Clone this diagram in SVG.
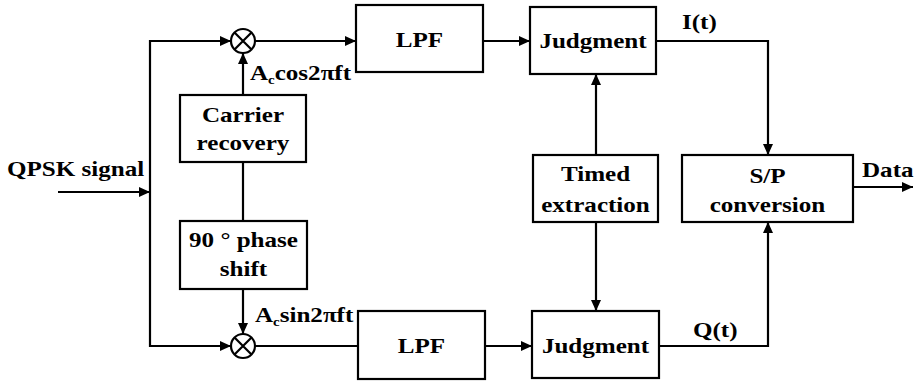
<svg xmlns="http://www.w3.org/2000/svg" width="918" height="383" viewBox="0 0 918 383">
  <style>
    .box { fill: #fff; stroke: #000; stroke-width: 2.2; }
    .ln { fill: none; stroke: #000; stroke-width: 2.2; }
    .t { font-family: "Liberation Serif", "Times New Roman", serif; font-weight: bold; font-size: 22px; fill: #000; }
    .c { text-anchor: middle; }
  </style>
  <defs>
    <marker id="arr" markerUnits="userSpaceOnUse" markerWidth="11" markerHeight="10" refX="11" refY="5" orient="auto">
      <path d="M0,0 L11,5 L0,10 z" fill="#000"/>
    </marker>
  </defs>
  <rect width="918" height="383" fill="#fff"/>

  <!-- connectors -->
  <g id="connectors">
    <line class="ln" x1="58" y1="192" x2="150" y2="192" marker-end="url(#arr)"/>
    <path class="ln" d="M150,192 V41 H231" marker-end="url(#arr)"/>
    <path class="ln" d="M150,192 V346 H231" marker-end="url(#arr)"/>
    <line class="ln" x1="243" y1="95" x2="243" y2="53" marker-end="url(#arr)"/>
    <line class="ln" x1="243" y1="162" x2="243" y2="221"/>
    <line class="ln" x1="243" y1="289" x2="243" y2="334" marker-end="url(#arr)"/>
    <line class="ln" x1="255" y1="41" x2="356" y2="41" marker-end="url(#arr)"/>
    <line class="ln" x1="255" y1="346" x2="358" y2="346"/>
    <line class="ln" x1="483" y1="41" x2="530" y2="41" marker-end="url(#arr)"/>
    <line class="ln" x1="485" y1="346" x2="532" y2="346" marker-end="url(#arr)"/>
    <line class="ln" x1="596" y1="155" x2="596" y2="74" marker-end="url(#arr)"/>
    <line class="ln" x1="596" y1="222" x2="596" y2="311" marker-end="url(#arr)"/>
    <path class="ln" d="M656,41 H768 V155" marker-end="url(#arr)"/>
    <path class="ln" d="M659,346 H768 V222" marker-end="url(#arr)"/>
    <line class="ln" x1="853" y1="187" x2="913" y2="187" marker-end="url(#arr)"/>
    <text class="t" transform="translate(7 176) scale(1.14 1)">QPSK signal</text>
    <text class="t" transform="translate(250 80) scale(1.14 1)">A<tspan font-size="13" dy="4">c</tspan><tspan dy="-4">cos2πft</tspan></text>
    <text class="t" transform="translate(255 322) scale(1.14 1)">A<tspan font-size="13" dy="4">c</tspan><tspan dy="-4">sin2πft</tspan></text>
    <text class="t" transform="translate(682 29) scale(1.14 1)">I(t)</text>
    <text class="t" transform="translate(693 337) scale(1.14 1)">Q(t)</text>
    <text class="t" transform="translate(862 177) scale(1.14 1)">Data</text>
  </g>

  <!-- mixers -->
  <g id="mixer-i">
    <circle class="ln" cx="243" cy="41" r="12"/>
    <path class="ln" d="M234.5,32.5 L251.5,49.5 M251.5,32.5 L234.5,49.5"/>
  </g>
  <g id="mixer-q">
    <circle class="ln" cx="243" cy="346" r="12"/>
    <path class="ln" d="M234.5,337.5 L251.5,354.5 M251.5,337.5 L234.5,354.5"/>
  </g>

  <g id="carrier-recovery">
    <rect class="box" x="180" y="95" width="126" height="67"/>
    <text class="t c" transform="translate(243 122) scale(1.14 1)">Carrier</text>
    <text class="t c" transform="translate(243 150) scale(1.14 1)">recovery</text>
  </g>
  <g id="phase-shift">
    <rect class="box" x="180" y="221" width="127" height="68"/>
    <text class="t c" transform="translate(243.5 247) scale(1.14 1)">90 ° phase</text>
    <text class="t c" transform="translate(243.5 276) scale(1.14 1)">shift</text>
  </g>
  <g id="lpf-i">
    <rect class="box" x="356" y="5" width="127" height="67"/>
    <text class="t c" transform="translate(419.5 47) scale(1.14 1)">LPF</text>
  </g>
  <g id="lpf-q">
    <rect class="box" x="358" y="311" width="127" height="68"/>
    <text class="t c" transform="translate(421.5 353) scale(1.14 1)">LPF</text>
  </g>
  <g id="judgment-i">
    <rect class="box" x="530" y="7" width="126" height="67"/>
    <text class="t c" transform="translate(593 48) scale(1.14 1)">Judgment</text>
  </g>
  <g id="judgment-q">
    <rect class="box" x="532" y="311" width="127" height="67"/>
    <text class="t c" transform="translate(595.5 353) scale(1.14 1)">Judgment</text>
  </g>
  <g id="timed-extraction">
    <rect class="box" x="533" y="155" width="125" height="67"/>
    <text class="t c" transform="translate(595.5 181) scale(1.14 1)">Timed</text>
    <text class="t c" transform="translate(595.5 212) scale(1.14 1)">extraction</text>
  </g>
  <g id="sp-conversion">
    <rect class="box" x="682" y="155" width="171" height="67"/>
    <text class="t c" transform="translate(767.5 183) scale(1.14 1)">S/P</text>
    <text class="t c" transform="translate(767.5 212) scale(1.14 1)">conversion</text>
  </g>
</svg>
